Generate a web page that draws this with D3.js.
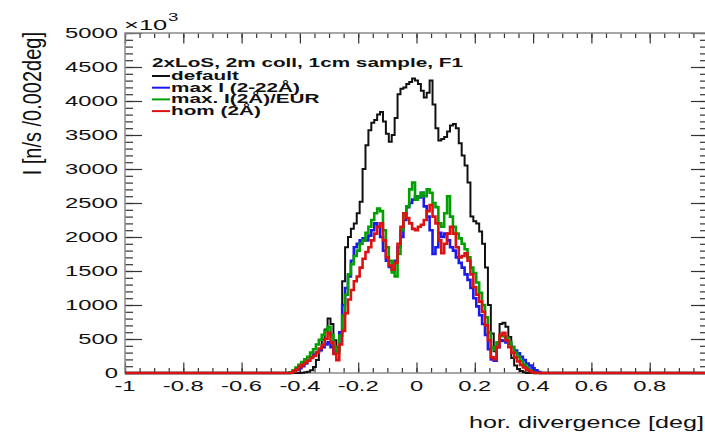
<!DOCTYPE html>
<html>
<head>
<meta charset="utf-8">
<script src="https://cdn.jsdelivr.net/npm/d3@7"></script>
<style>
  body { margin: 0; background: #fff; }
  svg { display: block; }
  text { font-family: "Liberation Sans", Arial, sans-serif; fill: #111; }
</style>
</head>
<body>
<div class="canvas"></div>
<script>
const
    width = 705,
    height = 436,
    plotLeft = 125,
    plotRight = 708,
    plotTop = 33,
    plotBottom = 373,
    textStretch = 1.7;

// bin centres, -0.45 .. 0.45 deg in 0.01 steps
const xs = d3.range(91).map(i => +(-0.45 + i * 0.01).toFixed(2));

const xTicks = [-1, -0.8, -0.6, -0.4, -0.2, 0, 0.2, 0.4, 0.6, 0.8];
const xTickLabels = ["-1", "-0.8", "-0.6", "-0.4", "-0.2", "0", "0.2", "0.4", "0.6", "0.8"];
const yTicks = [0, 500, 1000, 1500, 2000, 2500, 3000, 3500, 4000, 4500, 5000];

const names = ["default", "max I (2-22Å)", "max. I(2Å)/EUR", "hom (2Å)"];
const colors = ["#111111", "#1a1aee", "#00a000", "#dd1111"];

const defaultVals = [
    0, 0, 0, 0, 0, 0, 5, 10, 20, 40,
    90, 190, 330, 490, 640, 800, 720, 480, 380, 600,
    1350, 1850, 2000, 2120, 2200, 2350, 2520, 3000, 3350, 3570,
    3680, 3720, 3800, 3840, 3700, 3520, 3400, 3500, 3750, 4100,
    4180, 4200, 4250, 4280, 4330, 4300, 4250, 4150, 4050, 4120,
    4300, 3950, 3600, 3420, 3440, 3470, 3550, 3640, 3660, 3600,
    3380, 3200, 3050, 2800, 2300, 2230, 2200, 2080, 1900, 1550,
    1000, 580, 320, 450, 720, 740, 680, 530, 220, 110,
    60, 30, 10, 0, 0, 0, 0, 0, 0, 0, 0];
const maxIVals = [
    0, 0, 5, 20, 40, 70, 100, 140, 180, 230,
    270, 300, 340, 380, 420, 450, 380, 300, 330, 600,
    1000, 1250, 1420, 1650, 1850, 1900, 1950, 1980, 1950, 2020,
    2100, 2200, 2150, 2000, 1800, 1650, 1560, 1520, 1650, 1850,
    2000, 2250, 2440, 2500, 2550, 2600, 2580, 2650, 2450, 2300,
    2100, 1750, 1850, 2060, 2000, 2050, 1950, 1850, 1800, 1700,
    1620, 1550, 1450, 1370, 1250, 1100, 980, 850, 720, 560,
    350, 200, 180, 380, 480, 470, 450, 430, 380, 330,
    290, 240, 190, 140, 110, 70, 40, 15, 0, 0, 0];
const maxEurVals = [
    0, 0, 10, 40, 80, 120, 160, 200, 240, 300,
    350, 420, 490, 560, 620, 680, 560, 380, 300, 550,
    850, 1150, 1450, 1600, 1720, 1800, 1900, 1950, 2060, 2150,
    2250, 2350, 2420, 2380, 2100, 1850, 1650, 1480, 1420, 1750,
    2100, 2350, 2450, 2700, 2800, 2550, 2600, 2650, 2600, 2700,
    2650, 2500, 2440, 2200, 2150, 2350, 2600, 2300, 2150, 2050,
    1980, 1900, 1820, 1700, 1550, 1470, 1330, 1180, 1000, 820,
    600, 380, 340, 450, 540, 540, 520, 460, 380, 300,
    240, 180, 120, 80, 40, 15, 0, 0, 0, 0, 0];
const homVals = [
    0, 0, 0, 20, 50, 90, 120, 150, 180, 220,
    250, 300, 360, 410, 500, 590, 450, 280, 190, 420,
    620, 880, 1080, 1220, 1350, 1420, 1550, 1680, 1780, 1850,
    1950, 2050, 2150, 2200, 1950, 1700, 1580, 1520, 1620, 1900,
    2150, 2350, 2280, 2200, 2120, 2100, 2150, 2180, 2250, 2380,
    2470, 2300, 2200, 1950, 1760, 1900, 2050, 2150, 2050, 1850,
    1700, 1720, 1760, 1650, 1450, 1260, 1150, 1050, 900, 700,
    480, 230, 200, 380, 560, 590, 480, 380, 300, 230,
    170, 120, 80, 50, 30, 10, 0, 0, 0, 0, 0];

const series = [defaultVals, maxIVals, maxEurVals, homVals];
const strokeW = [2, 2.6, 2.6, 2.6];

const svg = d3.select('.canvas').append("svg")
    .attr('width', width)
    .attr('height', height);

const x = d3.scaleLinear().domain([-1, 1]).range([plotLeft, plotRight]);
const y = d3.scaleLinear().domain([0, 5000]).range([plotBottom, plotTop]);

// stretched text, the reference is squeezed horizontally
const label = (g, px, py, str, size, sx, anchor, weight) =>
    g.append("text")
        .attr("transform", `translate(${px},${py}) scale(${sx},1)`)
        .attr("text-anchor", anchor || "start")
        .style("font-size", size + "px")
        .style("font-weight", weight || "normal")
        .text(str);

svg.append("clipPath").attr("id", "clip")
    .append("rect")
    .attr("x", plotLeft).attr("y", plotTop - 2)
    .attr("width", plotRight - plotLeft).attr("height", plotBottom - plotTop + 4);

// ticks (inward, ROOT style)
const tickColor = "#333";
const axisG = svg.append("g");
const styleAxis = g => {
    g.select(".domain").remove();
    g.selectAll("line").attr("stroke", tickColor).attr("stroke-width", 1.2);
    g.selectAll("text").remove();
};
const minorX = d3.range(-1, 1.0001, 0.05).map(v => +v.toFixed(2));
const minorY = d3.range(0, 5001, 100);

axisG.append("g").attr("transform", `translate(0,${plotBottom})`)
    .call(d3.axisBottom(x).tickValues(minorX).tickSize(-5)).call(styleAxis);
axisG.append("g").attr("transform", `translate(0,${plotBottom})`)
    .call(d3.axisBottom(x).tickValues(xTicks).tickSize(-10.5)).call(styleAxis);
axisG.append("g").attr("transform", `translate(0,${plotTop})`)
    .call(d3.axisTop(x).tickValues(minorX).tickSize(-5)).call(styleAxis);
axisG.append("g").attr("transform", `translate(0,${plotTop})`)
    .call(d3.axisTop(x).tickValues(xTicks).tickSize(-10.5)).call(styleAxis);
axisG.append("g").attr("transform", `translate(${plotLeft},0)`)
    .call(d3.axisLeft(y).tickValues(minorY).tickSize(-8)).call(styleAxis);
axisG.append("g").attr("transform", `translate(${plotLeft},0)`)
    .call(d3.axisLeft(y).tickValues(yTicks).tickSize(-17)).call(styleAxis);
axisG.append("g").attr("transform", `translate(${plotRight},0)`)
    .call(d3.axisRight(y).tickValues(minorY).tickSize(-8)).call(styleAxis);
axisG.append("g").attr("transform", `translate(${plotRight},0)`)
    .call(d3.axisRight(y).tickValues(yTicks).tickSize(-17)).call(styleAxis);

// frame
svg.append("rect")
    .attr("x", plotLeft).attr("y", plotTop)
    .attr("width", plotRight - plotLeft).attr("height", plotBottom - plotTop)
    .attr("fill", "none").attr("stroke", "#8a8a8a").attr("stroke-width", 1.5);

// histograms
const line = d3.line()
    .x(d => x(d[0]))
    .y(d => y(d[1]))
    .curve(d3.curveStep);

series.forEach((vals, k) => {
    const pts = [[-1, 0]].concat(xs.map((v, i) => [v, vals[i]])).concat([[1, 0]]);
    svg.append("path")
        .datum(pts)
        .attr("clip-path", "url(#clip)")
        .attr("fill", "none")
        .attr("stroke", colors[k])
        .attr("stroke-width", strokeW[k])
        .attr("stroke-linejoin", "miter")
        .attr("d", line);
});

// tick labels
const labels = svg.append("g");
yTicks.forEach(v => label(labels, 118, y(v) + 5, String(v), 14, textStretch, "end"));
xTicks.forEach((v, i) => label(labels, x(v), 391, xTickLabels[i], 14, textStretch, "middle"));

// exponent
label(labels, 124, 30, "×10", 15, textStretch);
label(labels, 168, 21, "3", 11, textStretch);

// axis titles
label(labels, 704, 428, "hor. divergence [deg]", 17, 1.48, "end");
labels.append("text")
    .attr("transform", `translate(41,32) scale(1.25,1) rotate(-90)`)
    .attr("text-anchor", "end")
    .style("font-size", "20px")
    .text("I [n/s /0.002deg]");

// legend
const legend = svg.append("g");
label(legend, 152, 67, "2xLoS, 2m coll, 1cm sample, F1", 12.2, 1.7, "start", "bold");
names.forEach((n, k) => {
    const by = 80 + k * 11.7;
    legend.append("line")
        .attr("x1", 152).attr("x2", 170)
        .attr("y1", by - 4).attr("y2", by - 4)
        .attr("stroke", colors[k]).attr("stroke-width", 2);
    label(legend, 171, by, n, 12.2, 1.7, "start", "bold");
});
</script>
</body>
</html>
